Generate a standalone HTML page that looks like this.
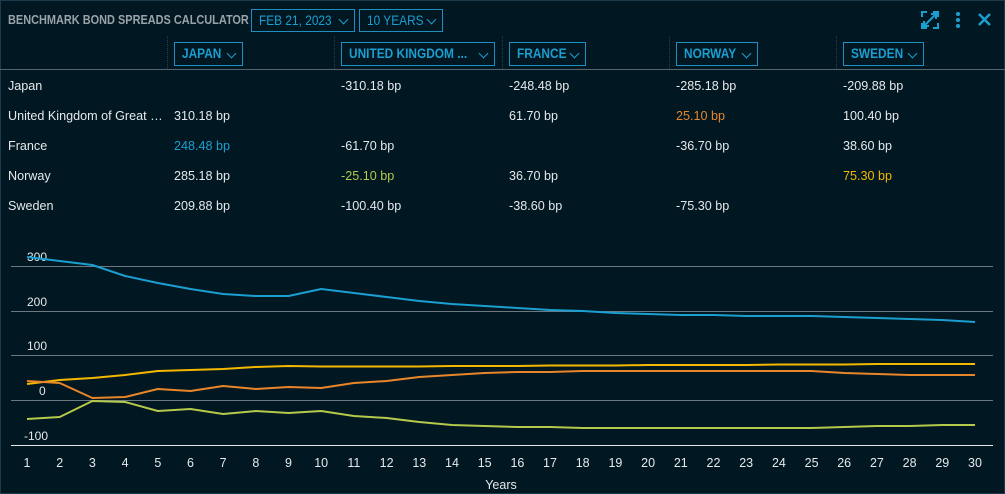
<!DOCTYPE html>
<html><head><meta charset="utf-8"><style>
body{margin:0;width:1005px;height:494px;background:#011722;font-family:"Liberation Sans",sans-serif;overflow:hidden;position:relative;color:#e6e9eb}
.frame{position:absolute;left:0;top:0;width:1003px;height:492px;border:1px solid #1c3a4a}
.t{position:absolute;font-size:12.6px;white-space:nowrap}
.title{position:absolute;left:8px;top:13px;font-size:12.5px;font-weight:bold;color:#9aa3a8;transform:scaleX(0.875);transform-origin:0 0;white-space:nowrap}
.dd{position:absolute;height:20px;border:1px solid #1d8fc0;color:#1a9fd0;font-size:13.5px;line-height:20px;box-sizing:border-box;white-space:nowrap}
.dd span{position:absolute;left:7px;transform:scaleX(0.88);transform-origin:0 0}
.dd.b{font-weight:bold}
.dd i{position:absolute;right:7px;top:4px;width:6px;height:6px;border-right:1.5px solid #1a9fd0;border-bottom:1.5px solid #1a9fd0;transform:rotate(45deg)}
.vd{position:absolute;top:36px;height:33px;border-left:1px dotted #27404d}
</style></head><body>
<div class="frame"></div>
<div class="title">BENCHMARK BOND SPREADS CALCULATOR</div>
<div class="dd" style="left:251px;top:9px;width:104px;height:23px;line-height:21px"><span>FEB 21, 2023</span><i style="top:6px"></i></div>
<div class="dd" style="left:359px;top:9px;width:84px;height:23px;line-height:21px"><span>10 YEARS</span><i style="top:6px"></i></div>
<svg style="position:absolute;left:920px;top:10px" width="80" height="20">
<g stroke="#1a9fd0" stroke-width="2" fill="none"><path d="M2 7V2h5M13 2h5v5M18 13v5h-5M7 18H2v-5M4 16L16 4M11 4h5v5M4 11v5h5"/></g>
<circle cx="38" cy="4" r="2" fill="#1a9fd0"/><circle cx="38" cy="10" r="2" fill="#1a9fd0"/><circle cx="38" cy="16" r="2" fill="#1a9fd0"/>
<path d="M59 4l11 11M70 4L59 15" stroke="#1a9fd0" stroke-width="2.5"/></svg>
<div class="vd" style="left:167px"></div><div class="vd" style="left:334px"></div><div class="vd" style="left:502px"></div><div class="vd" style="left:669px"></div><div class="vd" style="left:836px"></div>
<div class="dd b" style="left:174px;top:42px;width:69px;height:24px;line-height:22px"><span>JAPAN</span><i style="top:7px"></i></div>
<div class="dd b" style="left:341px;top:42px;width:154px;height:24px;line-height:22px"><span>UNITED KINGDOM ...</span><i style="top:7px"></i></div>
<div class="dd b" style="left:509px;top:42px;width:77px;height:24px;line-height:22px"><span>FRANCE</span><i style="top:7px"></i></div>
<div class="dd b" style="left:676px;top:42px;width:82px;height:24px;line-height:22px"><span>NORWAY</span><i style="top:7px"></i></div>
<div class="dd b" style="left:843px;top:42px;width:81px;height:24px;line-height:22px"><span>SWEDEN</span><i style="top:7px"></i></div>
<div style="position:absolute;left:0;top:69px;width:1005px;height:1px;background:#55656d"></div>
<div class="t" style="left:8px;top:79px">Japan</div>
<div class="t" style="left:8px;top:109px">United Kingdom of Great …</div>
<div class="t" style="left:8px;top:139px">France</div>
<div class="t" style="left:8px;top:169px">Norway</div>
<div class="t" style="left:8px;top:199px">Sweden</div>
<div class="t" style="left:174px;top:109px">310.18 bp</div>
<div class="t" style="left:174px;top:139px;color:#1a9fd0">248.48 bp</div>
<div class="t" style="left:174px;top:169px">285.18 bp</div>
<div class="t" style="left:174px;top:199px">209.88 bp</div>
<div class="t" style="left:341px;top:79px">-310.18 bp</div>
<div class="t" style="left:341px;top:139px">-61.70 bp</div>
<div class="t" style="left:341px;top:169px;color:#b5c94a">-25.10 bp</div>
<div class="t" style="left:341px;top:199px">-100.40 bp</div>
<div class="t" style="left:509px;top:79px">-248.48 bp</div>
<div class="t" style="left:509px;top:109px">61.70 bp</div>
<div class="t" style="left:509px;top:169px">36.70 bp</div>
<div class="t" style="left:509px;top:199px">-38.60 bp</div>
<div class="t" style="left:676px;top:79px">-285.18 bp</div>
<div class="t" style="left:676px;top:109px;color:#e8862a">25.10 bp</div>
<div class="t" style="left:676px;top:139px">-36.70 bp</div>
<div class="t" style="left:676px;top:199px">-75.30 bp</div>
<div class="t" style="left:843px;top:79px">-209.88 bp</div>
<div class="t" style="left:843px;top:109px">100.40 bp</div>
<div class="t" style="left:843px;top:139px">38.60 bp</div>
<div class="t" style="left:843px;top:169px;color:#f5b800">75.30 bp</div>
<svg style="position:absolute;left:0;top:0" width="1005" height="494" font-family="Liberation Sans,sans-serif" font-size="12" fill="#e6e9eb">
<g stroke="#6b7a82" stroke-width="1"><line x1="11" x2="993" y1="266.5" y2="266.5"/><line x1="11" x2="993" y1="311.5" y2="311.5"/><line x1="11" x2="993" y1="355.5" y2="355.5"/><line x1="11" x2="993" y1="400.5" y2="400.5"/></g>
<line x1="11" x2="993" y1="445.5" y2="445.5" stroke="#e6e9eb"/>
<text x="27" y="261">300</text><text x="27" y="306">200</text><text x="27" y="350">100</text><text x="39" y="395">0</text><text x="24" y="440">-100</text>
<g text-anchor="middle" font-size="12.5">
<text x="27" y="467">1</text><text x="59.7" y="467">2</text><text x="92.4" y="467">3</text><text x="125.1" y="467">4</text><text x="157.8" y="467">5</text><text x="190.5" y="467">6</text><text x="223.1" y="467">7</text><text x="255.8" y="467">8</text><text x="288.5" y="467">9</text><text x="321.2" y="467">10</text><text x="353.9" y="467">11</text><text x="386.6" y="467">12</text><text x="419.3" y="467">13</text><text x="452" y="467">14</text><text x="484.7" y="467">15</text><text x="517.4" y="467">16</text><text x="550" y="467">17</text><text x="582.7" y="467">18</text><text x="615.4" y="467">19</text><text x="648.1" y="467">20</text><text x="680.8" y="467">21</text><text x="713.5" y="467">22</text><text x="746.2" y="467">23</text><text x="778.9" y="467">24</text><text x="811.6" y="467">25</text><text x="844.2" y="467">26</text><text x="876.9" y="467">27</text><text x="909.6" y="467">28</text><text x="942.3" y="467">29</text><text x="975" y="467">30</text>
<text x="501" y="489">Years</text></g>
<g fill="none" stroke-width="2" stroke-linejoin="round">
<polyline stroke="#1a9fd0" points="27,257 59.7,261 92.4,265 125.1,276 157.8,283 190.5,289 223.1,294 255.8,296 288.5,296 321.2,289 353.9,293 386.6,297 419.3,301 452,304 484.7,306 517.4,308 550,310 582.7,311 615.4,313 648.1,314 680.8,315 713.5,315 746.2,316 778.9,316 811.6,316 844.2,317 876.9,318 909.6,319 942.3,320 975,322"/>
<polyline stroke="#f5b800" points="27,384 59.7,380 92.4,378 125.1,375 157.8,371 190.5,370 223.1,369 255.8,367 288.5,366 321.2,366.5 353.9,366.5 386.6,366.5 419.3,366.5 452,366 484.7,366 517.4,366 550,365.5 582.7,365.5 615.4,365.5 648.1,365 680.8,365 713.5,365 746.2,365 778.9,364.5 811.6,364.5 844.2,364.5 876.9,364 909.6,364 942.3,364 975,364"/>
<polyline stroke="#e8862a" points="27,381 59.7,383 92.4,398 125.1,397 157.8,389 190.5,391 223.1,386 255.8,389 288.5,387 321.2,388 353.9,383 386.6,381 419.3,377 452,375 484.7,373 517.4,372 550,372 582.7,371 615.4,371 648.1,371 680.8,371 713.5,371 746.2,371 778.9,371 811.6,371 844.2,373 876.9,374 909.6,375 942.3,375 975,375"/>
<polyline stroke="#b5c94a" points="27,419 59.7,417 92.4,401 125.1,402 157.8,411 190.5,409 223.1,414 255.8,411 288.5,413 321.2,411 353.9,416 386.6,418 419.3,422 452,425 484.7,426 517.4,427 550,427 582.7,428 615.4,428 648.1,428 680.8,428 713.5,428 746.2,428 778.9,428 811.6,428 844.2,427 876.9,426 909.6,426 942.3,425 975,425"/>
</g></svg>
</body></html>
